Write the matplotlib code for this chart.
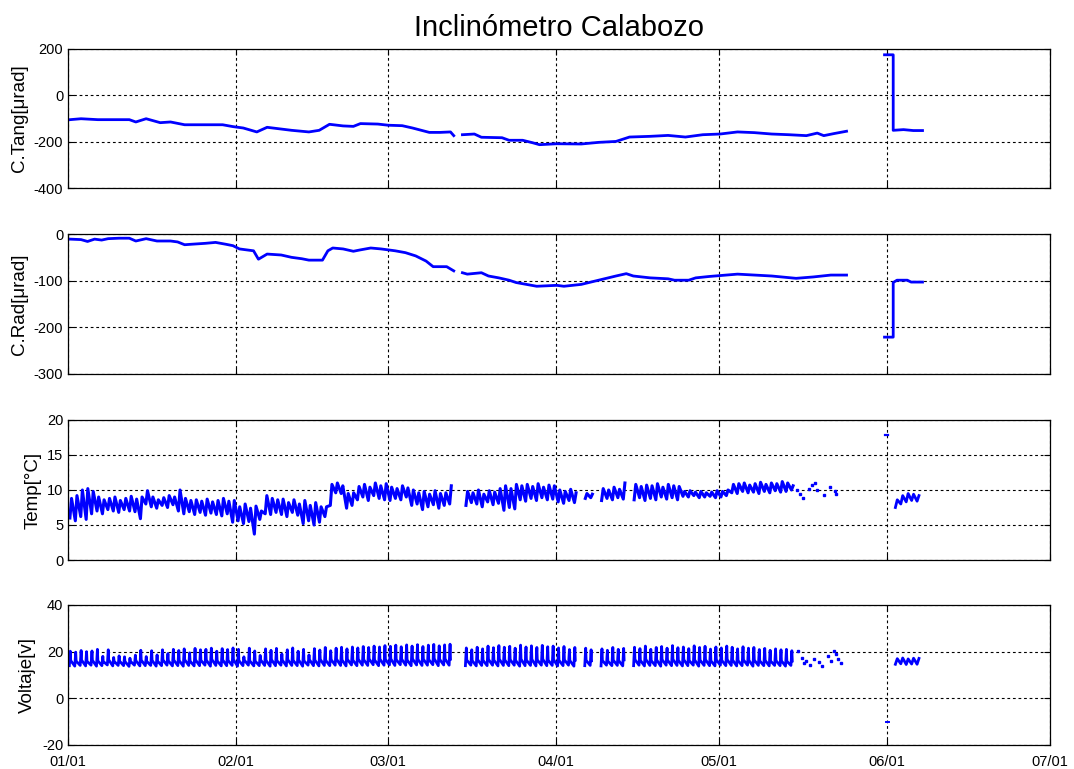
import numpy as np
import matplotlib
matplotlib.use("Agg")
import matplotlib.pyplot as plt
import matplotlib.dates as mdates
from datetime import datetime

plt.rcParams['font.family'] = ['Liberation Sans', 'DejaVu Sans']
plt.rcParams['axes.unicode_minus'] = False

nan = np.nan

# ---------------------------------------------------------------- data
# time is given in days since 01/01
month_days = [0, 31, 59, 90, 120, 151, 181]
month_labels = ["01/01", "02/01", "03/01", "04/01", "05/01", "06/01", "07/01"]

# Tangential component [urad]
tang_days = [0.4, 2.4, 5.5, 11.3, 12.5, 14.4, 17.0, 18.9, 21.5, 28.5, 30.4, 32.3,
             34.8, 36.7, 41.2, 44.4, 46.3, 48.2, 50.7, 52.6, 53.9, 57.1, 59.0, 61.6,
             63.5, 66.6, 68.6, 70.5, 71.1, nan, 72.7, 74.9, 76.2, 80.0, 81.3, 83.8,
             85.7, 86.9, 90.1, 94.6, 97.8, 101.0, 103.5, 107.3, 110.6, 113.8, 117.0,
             120.2, 123.4, 126.5, 129.7, 132.9, 136.1, 138.1, 139.3, 141.2, 143.5,
             nan, 150.5, 152.1, 152.1, 154.0, 155.8, 157.5]
tang_vals = [-105, -101, -105, -105, -115, -101, -118, -115, -127, -127, -135, -141,
             -158, -138, -151, -158, -151, -125, -132, -134, -122, -124, -129, -131,
             -141, -160, -160, -158, -174, nan, -170, -167, -181, -183, -194, -194,
             -205, -213, -209, -210, -203, -199, -180, -177, -173, -180, -170,
             -167, -158, -161, -167, -170, -174, -163, -174, -165, -155,
             nan, 175, 175, -151, -148, -152, -152]

# Radial component [urad]
rad_days = [0.4, 2.4, 3.6, 4.9, 6.2, 7.4, 9.4, 11.3, 12.5, 14.4, 16.4, 18.9, 20.2,
            21.5, 22.7, 25.3, 27.2, 29.1, 30.4, 31.6, 32.9, 34.2, 35.1, 36.7, 39.3,
            41.2, 43.1, 44.4, 46.9, 47.9, 48.8, 50.7, 52.6, 53.9, 55.8, 57.7, 60.3,
            62.2, 64.1, 66.0, 67.3, 69.8, 71.1, nan, 72.7, 73.6, 76.2, 77.5, 79.4,
            81.3, 82.6, 84.5, 86.4, 90.1, 91.4, 94.6, 97.8, 101.0, 102.9, 104.2,
            107.3, 110.6, 111.8, 114.4, 115.7, 118.2, 123.4, 129.7, 134.2, 137.4,
            140.6, 143.5, nan, 150.5, 152.1, 152.1, 152.8, 154.7, 155.4, 157.5]
rad_vals = [-11, -12, -16, -11, -13, -10, -9, -9, -15, -10, -15, -15, -17,
            -23, -22, -20, -18, -22, -25, -32, -34, -36, -54, -43, -45,
            -50, -53, -56, -56, -36, -30, -32, -37, -34, -30, -32, -36,
            -40, -47, -58, -70, -70, -79, nan, -83, -86, -83, -90, -94,
            -99, -104, -108, -112, -110, -112, -108, -99, -90, -85, -90,
            -94, -96, -99, -99, -94, -91, -86, -90, -95, -92,
            -88, -88, nan, -221, -221, -104, -99, -99, -103, -103]

# Temperature [°C]: daily low / high, days 0..133
temp_low = [6.0, 5.6, 6.2, 5.8, 6.6,
            7.0, 6.6, 7.2, 7.0, 6.8, 7.2, 7.0, 6.9,
            5.9, 8.0,
            7.6, 7.4, 7.8, 7.5, 7.9,
            7.0,
            6.6, 6.9, 6.5, 6.8, 6.4, 6.7, 6.5, 6.3, 6.6,
            5.4,
            5.6, 5.2, 5.5, 3.7, 5.8,
            6.6, 6.5, 6.8,
            6.5, 6.2, 6.8, 6.4,
            5.2, 5.6, 5.0, 5.4,
            6.2, 7.8, 9.6, 9.5, 7.4, 7.8,
            8.6, 9.0, 8.5, 9.2, 8.8, 8.6,
            8.5, 8.8, 8.6, 9.0,
            7.8, 8.0, 7.2, 7.6, 7.9, 7.4, 7.8, 8.0,
            nan, nan,
            7.8, 8.2, 8.0, 7.6, 8.3, 7.9, 8.1,
            7.1, 7.5, 7.3,
            8.6, 8.4, 8.8, 8.5, 8.9, 8.6, 8.7,
            8.3, 8.1, 8.5, 8.2,
            nan, 8.8, 8.9, nan,
            8.5, 8.8, 8.6, 8.9, 8.7,
            nan,
            8.6, 8.9, 8.5, 8.8, 8.6, 9.0, 8.7, 8.9, 8.6,
            9.1, 9.0, 9.2, 8.9, 9.0, 9.1, 8.9, 9.0, 9.2,
            9.6, 9.5, 9.8, 9.6, 9.7, 9.5, 9.8, 9.6, 9.9, 9.7, 9.8, 10.0]
temp_high = [8.8, 9.2, 10.0, 10.2, 9.8,
             9.0, 8.6, 8.8, 9.0, 8.5, 8.8, 9.1, 8.7,
             9.0, 9.9,
             9.0, 8.6, 8.9, 9.2, 9.0,
             10.0,
             8.8, 8.5, 8.6, 8.4, 8.7, 8.3, 8.5, 8.8, 8.4,
             8.5,
             7.6, 8.0, 7.4, 7.7, 7.0,
             9.2, 8.8, 8.6,
             8.7, 8.2, 8.6, 8.0,
             8.5, 7.8, 8.2, 7.6,
             7.6, 10.8, 11.0, 10.6, 9.5, 9.6,
             10.5, 10.8, 10.4, 11.0, 10.6, 10.9,
             10.4, 10.2, 10.6, 10.3,
             10.0, 9.6, 9.8, 9.4, 9.9, 9.5, 9.6, 10.6,
             nan, nan,
             9.8, 9.6, 10.0, 9.4, 9.9, 9.7, 10.2,
             10.6, 10.2, 10.8,
             10.6, 10.8, 10.5, 10.9, 10.4, 10.7, 10.6,
             10.0, 9.8, 10.1, 9.6,
             nan, 9.5, 9.4, nan,
             10.2, 10.0, 10.4, 10.1, 11.0,
             nan,
             10.8, 10.5, 10.7, 10.6, 10.9, 10.4, 10.8, 10.6, 10.5,
             9.8, 9.9, 9.7, 9.8, 9.6, 9.7, 9.9, 9.8, 10.0,
             10.8, 10.9, 11.0, 10.7, 10.9, 11.1, 10.8, 11.0, 10.9, 11.2, 11.0, 10.6]
temp_dot_days = [134.3, 135.0, 135.5, 136.6, 137.1, 137.6, 138.0, 139.4, 140.5, 141.3, 141.6]
temp_dot_vals = [10.0, 9.5, 8.8, 10.2, 10.7, 11.0, 10.0, 9.3, 10.5, 9.8, 9.5]
temp_jun1_days = [150.6, 151.2]
temp_jun1_vals = [17.8, 17.8]
jun_days = [152, 153, 154, 155, 156]
jun_temp_low = [7.5, 8.0, 8.3, 8.5, 8.4]
jun_temp_high = [8.6, 9.2, 9.5, 9.4, 9.2]

# Battery voltage [V]: daily night level, charge peak and evening level, days 0..133
volt_low = [14.0, 13.8, 14.1, 13.9, 14.2, 13.8, 14.0, 14.3, 13.9, 14.1,
            14.0, 13.7, 14.2, 13.9, 14.0, 14.1, 13.8, 14.0, 14.2, 13.9,
            14.0, 13.8, 14.1, 13.9, 14.0, 14.2, 13.8, 14.1, 13.9, 14.0,
            14.1, 13.8, 14.0, 14.2, 13.9, 14.0, 14.1, 13.8, 14.0, 14.2,
            13.9, 14.1, 14.0, 13.8, 14.2, 14.0, 13.9, 14.1, 14.0, 14.2,
            14.1, 13.9, 14.3, 14.0, 14.2, 14.1, 14.4, 14.0, 14.2, 14.3,
            14.1, 14.4, 14.2, 14.0, 14.3, 14.1, 14.2, 14.4, 14.0, 14.3,
            14.2, nan, nan, 14.0, 14.2, 13.9, 14.1, 14.0, 14.2, 13.9,
            14.1, 14.0, 14.2, 13.8, 14.0, 14.1, 13.9, 14.2, 14.0, 14.1,
            13.9, 14.0, 14.2, 13.8, nan, 14.0, 14.1, nan, 13.9, 14.2,
            14.0, 14.1, 13.9, nan, 14.0, 14.2, 13.9, 14.1, 14.0, 13.8,
            14.2, 14.0, 14.1, 13.9, 14.0, 14.2, 13.8, 14.1, 14.0, 13.9,
            14.2, 14.0, 14.1, 13.9, 14.0, 14.2, 13.8, 14.1, 14.0, 13.9,
            14.1, 14.0, 13.8, 14.1]
volt_peak = [20.2, 19.8, 20.5, 20.0, 20.3, 21.0, 18.0, 20.8, 17.5, 18.2,
             17.8, 17.2, 18.5, 20.6, 17.9, 20.4, 18.6, 20.8, 19.2, 21.0,
             20.5, 21.2, 19.5, 21.4, 20.8, 21.0, 21.5, 20.2, 21.3, 20.9, 21.6,
             21.0, 17.8, 21.5, 20.3, 18.4, 21.2, 20.6, 21.4, 19.0, 20.8,
             21.6, 20.2, 21.0, 18.6, 21.3, 20.7, 21.8, 20.4, 21.5, 21.9,
             21.2, 22.0, 21.6, 22.2, 21.8, 22.4, 22.0, 22.6,
             22.3, 22.8, 22.1, 22.9, 22.4, 23.0, 22.2, 22.8, 23.1, 22.5, 22.9, 23.2,
             nan, nan,
             21.6, 20.8, 21.9, 21.2, 22.4, 21.7, 22.6, 21.9, 22.3, 21.5,
             22.8, 22.0, 22.5, 21.8, 22.7, 22.1, 22.4, 21.6, 22.2, 20.9, 21.8,
             nan, 21.5, 20.8, nan,
             21.2, 20.6, 21.8, 21.0, 21.4,
             nan,
             21.9, 21.3, 22.4, 21.0, 21.8, 22.2, 21.5, 22.6, 21.7, 22.0,
             21.3, 22.5, 21.8, 22.3, 21.1, 22.0, 21.6, 22.4, 21.9, 21.2,
             22.1, 21.5, 21.8, 20.9, 21.4, 20.6, 21.2, 20.8, 21.0, 20.4]
volt_mid = [16.2, 16.0, 16.4, 15.9, 16.3, 16.1, 15.8, 16.5, 15.9, 16.0,
            15.8, 15.9, 16.2, 16.4, 15.9, 16.3, 16.0, 16.5, 16.1, 16.4,
            16.2, 16.6, 16.0, 16.5, 16.3, 16.4, 16.7, 16.1, 16.5, 16.3,
            16.6, 16.2, 16.4, 16.1, 16.0, 16.5, 16.3, 16.6, 16.2, 16.4,
            16.6, 16.3, 16.5, 16.1, 16.6, 16.4, 16.7, 16.3, 16.6, 16.8,
            16.5, 16.7, 16.4, 16.8, 16.6, 16.9, 16.5, 16.8, 16.7, 16.9,
            16.6, 16.8, 16.5, 16.9, 16.7, 16.8, 16.6, 17.0, 16.7, 16.9,
            16.8, nan, nan, 16.4, 16.2, 16.6, 16.3, 16.7, 16.4, 16.8,
            16.5, 16.6, 16.3, 16.8, 16.4, 16.7, 16.5, 16.8, 16.4, 16.6,
            16.3, 16.5, 16.2, 16.4, nan, 16.3, 16.1, nan, 16.2, 16.0,
            16.4, 16.2, 16.5, nan, 16.6, 16.3, 16.7, 16.2, 16.5, 16.6,
            16.4, 16.7, 16.3, 16.6, 16.2, 16.5, 16.4, 16.6, 16.1, 16.5,
            16.3, 16.6, 16.4, 16.2, 16.5, 16.3, 16.4, 16.1, 16.3, 16.0,
            16.2, 16.1, 15.9, 16.0]
volt_dot_days = [134.6, 135.2, 135.6, 136.0, 136.8, 137.5, 138.5, 139.0, 140.0,
                 140.6, 141.2, 141.5, 142.0, 142.5]
volt_dot_vals = [20.5, 17.5, 15.0, 16.0, 14.5, 17.0, 15.5, 14.0, 18.0,
                 16.0, 20.5, 19.0, 17.0, 15.0]
volt_jun1_days = [150.8, 151.3]
volt_jun1_vals = [-10.0, -10.0]
jun_volt_low = [14.6, 14.8, 14.5, 14.7, 14.6]
jun_volt_high = [17.0, 17.3, 16.9, 17.2, 17.1]

# ---------------------------------------------------------------- helpers
T0 = mdates.date2num(datetime(2010, 1, 1))


def dates(days):
    return T0 + np.asarray(days, dtype=float)


def daily_cycle(day0, columns, offsets):
    """Interleave per-day readings into one time series; NaN days break the line."""
    cols = [np.asarray(c, dtype=float) for c in columns]
    n = len(cols[0])
    d = np.arange(n, dtype=float) + day0
    bad = np.zeros(n, bool)
    for c in cols:
        bad |= np.isnan(c)
    t = np.column_stack([d + o for o in offsets])
    v = np.column_stack(cols)
    v[bad, :] = nan
    return t.ravel(), v.ravel()


BLUE = (0, 0, 1)
fig = plt.figure(figsize=(10.74, 7.69), dpi=100)
W, H = 1074.0, 769.0
left, right = 68, 1050
rows = [(49, 188), (234, 374), (420, 560), (605, 745)]
axes = [fig.add_axes([left / W, 1 - b / H, (right - left) / W, (b - t) / H]) for t, b in rows]
ax1, ax2, ax3, ax4 = axes

# C.Tang
ax1.plot(dates(tang_days), tang_vals, color=BLUE, lw=2.0)
ax1.set_ylim(-400, 200)
ax1.set_yticks([-400, -200, 0, 200])
ax1.set_ylabel('C.Tang[μrad]')
ax1.set_title('Inclinómetro Calabozo', fontsize=21, pad=9)

# C.Rad
ax2.plot(dates(rad_days), rad_vals, color=BLUE, lw=2.0)
ax2.set_ylim(-300, 0)
ax2.set_yticks([-300, -200, -100, 0])
ax2.set_ylabel('C.Rad[μrad]')

# Temperature
tt, tv = daily_cycle(0, [temp_low, temp_high], [0.35, 0.65])
ax3.plot(dates(tt), tv, color=BLUE, lw=2.2)
ax3.plot(dates(temp_dot_days), temp_dot_vals, ls='none', marker='s', ms=1.8, color=BLUE)
ax3.plot(dates(temp_jun1_days), temp_jun1_vals, color=BLUE, lw=1.6)
jt, jv = daily_cycle(jun_days[0], [jun_temp_low, jun_temp_high], [0.5, 0.85])
ax3.plot(dates(jt), jv, color=BLUE, lw=2.0)
ax3.set_ylim(0, 20)
ax3.set_yticks([0, 5, 10, 15, 20])
ax3.set_ylabel('Temp[°C]')

# Voltage
vt, vv = daily_cycle(0, [volt_low, volt_peak, volt_mid], [0.25, 0.42, 0.5])
ax4.plot(dates(vt), vv, color=BLUE, lw=2.0)
ax4.plot(dates(volt_dot_days), volt_dot_vals, ls='none', marker='s', ms=1.8, color=BLUE)
ax4.plot(dates(volt_jun1_days), volt_jun1_vals, color=BLUE, lw=1.4)
jt, jv = daily_cycle(jun_days[0], [jun_volt_low, jun_volt_high], [0.5, 0.85])
ax4.plot(dates(jt), jv, color=BLUE, lw=2.0)
ax4.set_ylim(-20, 40)
ax4.set_yticks([-20, 0, 20, 40])
ax4.set_ylabel('Voltaje[v]')

for ax in axes:
    ax.set_xlim(dates([month_days[0], month_days[-1]]))
    ax.set_xticks(dates(month_days))
    ax.grid(True, color='black', linestyle=(0, (2.5, 2.5)), linewidth=0.8)
    ax.tick_params(direction='in', length=4, top=True, right=True,
                   labelsize=10.5, width=0.8)
    ax.tick_params(axis='x', pad=7)
    ax.yaxis.label.set_size(13.5)
    for s in ax.spines.values():
        s.set_linewidth(0.9)
    if ax is ax4:
        ax.set_xticklabels(month_labels)
    else:
        ax.set_xticklabels([])

fig.savefig('out.png', dpi=100)
